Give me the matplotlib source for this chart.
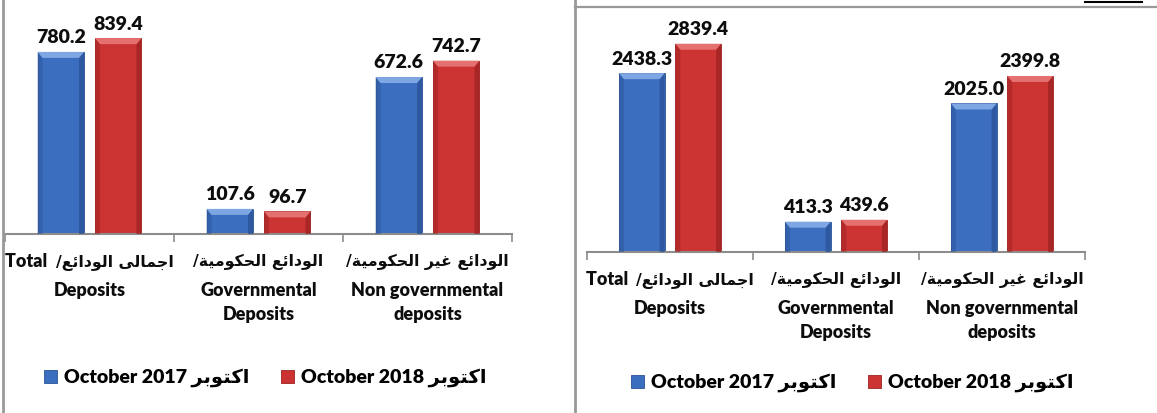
import numpy as np
import matplotlib
matplotlib.use("Agg")
import matplotlib.pyplot as plt
from matplotlib.patches import Polygon
from matplotlib.lines import Line2D
from matplotlib.offsetbox import TextArea, HPacker, AnnotationBbox

plt.rcParams["font.family"] = ["Lato", "DejaVu Sans"]
plt.rcParams["font.weight"] = "heavy"

W, H = 1157, 413
PT = 0.72  # points per pixel at dpi 100

# deposits, left block and right block (same three categories)
left_2017 = [780.2, 107.6, 672.6]
left_2018 = [839.4, 96.7, 742.7]
right_2017 = [2438.3, 413.3, 2025.0]
right_2018 = [2839.4, 439.6, 2399.8]

cat_ar = ["اجمالى الودائع", "الودائع الحكومية", "الودائع غير الحكومية"]
cat_lead = ["Total  ", "", ""]
cat_en = ["Deposits", "Governmental\nDeposits", "Non governmental\ndeposits"]
month_ar = "اكتوبر"
years = ["2017", "2018"]

# arabic presentation forms: isolated, final, initial, medial
FORMS = {
    "ا": ("\uFE8D", "\uFE8E", None, None),
    "ب": ("\uFE8F", "\uFE90", "\uFE91", "\uFE92"),
    "ة": ("\uFE93", "\uFE94", None, None),
    "ت": ("\uFE95", "\uFE96", "\uFE97", "\uFE98"),
    "ج": ("\uFE9D", "\uFE9E", "\uFE9F", "\uFEA0"),
    "ح": ("\uFEA1", "\uFEA2", "\uFEA3", "\uFEA4"),
    "د": ("\uFEA9", "\uFEAA", None, None),
    "ر": ("\uFEAD", "\uFEAE", None, None),
    "ع": ("\uFEC9", "\uFECA", "\uFECB", "\uFECC"),
    "غ": ("\uFECD", "\uFECE", "\uFECF", "\uFED0"),
    "ك": ("\uFED9", "\uFEDA", "\uFEDB", "\uFEDC"),
    "ل": ("\uFEDD", "\uFEDE", "\uFEDF", "\uFEE0"),
    "م": ("\uFEE1", "\uFEE2", "\uFEE3", "\uFEE4"),
    "و": ("\uFEED", "\uFEEE", None, None),
    "ى": ("\uFEEF", "\uFEF0", None, None),
    "ي": ("\uFEF1", "\uFEF2", "\uFEF3", "\uFEF4"),
    "ئ": ("\uFE89", "\uFE8A", "\uFE8B", "\uFE8C"),
}


def ar(text):
    """Join arabic letters and return them in left-to-right display order."""
    out = []
    for i, c in enumerate(text):
        if c not in FORMS:
            out.append(c)
            continue
        prev = text[i - 1] if i > 0 else ""
        nxt = text[i + 1] if i + 1 < len(text) else ""
        from_prev = prev in FORMS and FORMS[prev][2] is not None
        to_next = nxt in FORMS and FORMS[c][2] is not None
        iso, fin, ini, med = FORMS[c]
        if from_prev and to_next:
            out.append(med)
        elif from_prev:
            out.append(fin)
        elif to_next:
            out.append(ini)
        else:
            out.append(iso)
    return "".join(reversed(out))


legend_labels = [f"October {y} " + ar(month_ar) for y in years]

BLUE = ("#3c6ebf", "#7ea6e2", "#2a5396")
RED = ("#cc3434", "#e57070", "#9e2222")
GRID = "#8c8c8c"
INK = "#0d0d0d"
LAT = dict(family=["Lato", "DejaVu Sans"], weight="heavy", size=13, color=INK)
ARB = dict(family=["DejaVu Sans"], weight="bold", size=11.3, color=INK)

fig = plt.figure(figsize=(W / 100, H / 100), dpi=100)


def bevel(ax, bars, colors):
    face, light, dark = colors
    x0p, y0p = ax.transData.transform((0, 0))
    x1p, y1p = ax.transData.transform((1, 1))
    d = 5 / (x1p - x0p)
    dy = 6 / (y1p - y0p)
    for r in bars:
        x0, x1 = r.get_x(), r.get_x() + r.get_width()
        top = r.get_height()
        e = min(dy, top * 0.45)
        ax.add_patch(Polygon([(x0, 0), (x0 + d, 0), (x0 + d, top - e), (x0, top)],
                             closed=True, fc=dark, ec="none", alpha=0.5, zorder=3))
        ax.add_patch(Polygon([(x1, 0), (x1 - d, 0), (x1 - d, top - e), (x1, top)],
                             closed=True, fc=dark, ec="none", alpha=0.75, zorder=3))
        ax.add_patch(Polygon([(x0, top), (x1, top), (x1 - d, top - e), (x0 + d, top - e)],
                             closed=True, fc=light, ec="none", zorder=3))


def panel(rect, ymax, v17, v18, legend_xy):
    ax = fig.add_axes(rect)
    x = np.arange(len(v17))
    w = 0.275
    b1 = ax.bar(x - 0.17, v17, w, color=BLUE[0], edgecolor=BLUE[2], lw=0.6, zorder=2)
    b2 = ax.bar(x + 0.17, v18, w, color=RED[0], edgecolor=RED[2], lw=0.6, zorder=2)
    ax.set_xlim(-0.5, 2.5)
    ax.set_ylim(0, ymax)
    bevel(ax, b1, BLUE)
    bevel(ax, b2, RED)
    for bars, vals in ((b1, v17), (b2, v18)):
        for r, v in zip(bars, vals):
            ax.annotate(f"{v:.1f}", (r.get_x() + r.get_width() / 2, v),
                        xytext=(0, 4), textcoords="offset points",
                        ha="center", va="bottom", fontsize=14, fontweight="heavy",
                        color=INK)
    for s in ("left", "right", "top"):
        ax.spines[s].set_visible(False)
    ax.spines["bottom"].set_color(GRID)
    ax.spines["bottom"].set_linewidth(1.5)
    ax.set_yticks([])
    ax.set_xticks(x, [""] * len(x))
    ax.set_xticks([-0.5, 0.5, 1.5, 2.5], minor=True)
    ax.tick_params(axis="x", which="major", length=0)
    ax.tick_params(axis="x", which="minor", length=6, width=1.2, color=GRID,
                   direction="out")

    # category names: arabic line, then english lines
    for i in x:
        parts = []
        if cat_lead[i]:
            parts.append(TextArea(cat_lead[i], textprops=LAT))
        parts.append(TextArea("/" + ar(cat_ar[i]), textprops=ARB))
        row = HPacker(children=parts, align="baseline", pad=0, sep=0)
        ax.add_artist(AnnotationBbox(row, (i, 0), xycoords=("data", "axes fraction"),
                                     xybox=(0, -28 * PT), boxcoords="offset points",
                                     box_alignment=(0.5, 0.5), frameon=False, pad=0))
        ax.annotate(cat_en[i], (i, 0), xycoords=("data", "axes fraction"),
                    xytext=(0, -48 * PT), textcoords="offset points",
                    ha="center", va="top", linespacing=1.5, fontsize=13,
                    color=INK, fontweight="heavy")

    ax.legend([b1, b2], legend_labels, loc="center left",
              bbox_to_anchor=legend_xy, bbox_transform=fig.transFigure,
              ncol=2, frameon=False, handlelength=0.68,
              handleheight=0.68, handletextpad=0.35, columnspacing=1.6,
              borderaxespad=0, borderpad=0,
              prop={"weight": "heavy", "size": 14})
    return ax


panel([5 / W, 1 - 234 / H, 507 / W, 234 / H], 234 / 0.2334,
      left_2017, left_2018, (44 / W, 1 - 378 / H))
panel([587 / W, 1 - 252 / H, 498 / W, 252 / H], 252 / 0.07335,
      right_2017, right_2018, (631 / W, 1 - 383 / H))

# frame lines around the two blocks
fig.add_artist(Line2D([3 / W, 3 / W], [0, 1], color="#999999", lw=2))
fig.add_artist(Line2D([575 / W, 575 / W], [0, 1], color="#999999", lw=2))
fig.add_artist(Line2D([575 / W, 1], [1 - 7 / H, 1 - 7 / H], color="#999999", lw=1.6))
fig.add_artist(Line2D([1085 / W, 1142 / W], [1 - 1.5 / H, 1 - 1.5 / H], color="black", lw=1.5))

fig.savefig("out.png", dpi=100)
